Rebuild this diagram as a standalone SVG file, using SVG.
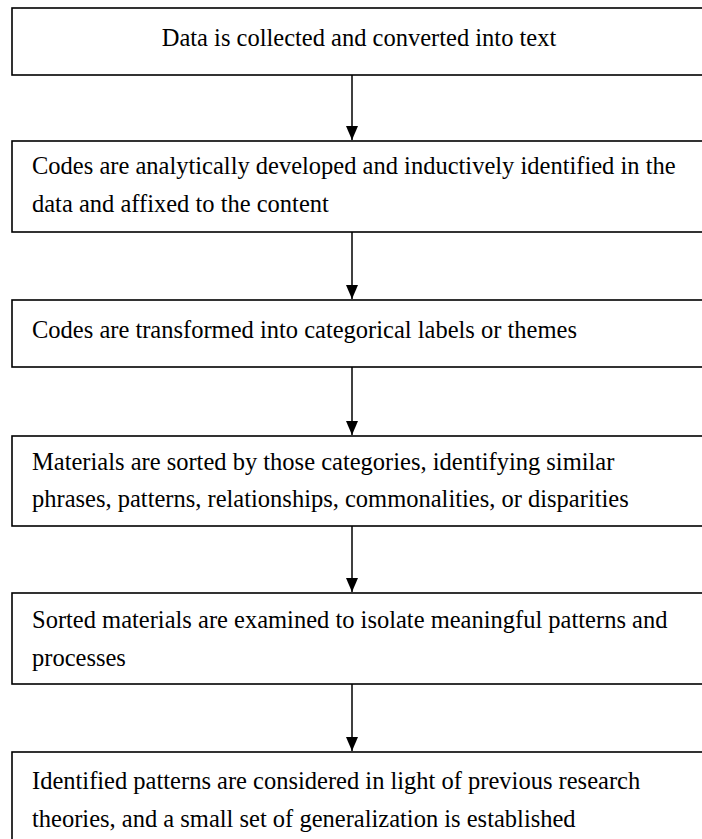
<svg xmlns="http://www.w3.org/2000/svg" width="702" height="839" viewBox="0 0 702 839">
<style>
.box{fill:#fff;stroke:#000;stroke-width:1.6}
.t{font-family:"Liberation Serif","Times New Roman",serif;font-size:24.5px;fill:#000}
.c{stroke:#000;stroke-width:1.5;fill:none}
</style>
<defs>
<marker id="ah" markerWidth="14" markerHeight="12" refX="14" refY="6" orient="auto" markerUnits="userSpaceOnUse" viewBox="0 0 14 12">
<path d="M0,0 L14,6 L0,12 Z" fill="#000"/>
</marker>
</defs>
<rect width="702" height="839" fill="#fff"/>
<g id="connectors">
<line class="c" x1="352" y1="75" x2="352" y2="140" marker-end="url(#ah)"/>
<line class="c" x1="352" y1="232" x2="352" y2="299" marker-end="url(#ah)"/>
<line class="c" x1="352" y1="367" x2="352" y2="435" marker-end="url(#ah)"/>
<line class="c" x1="352" y1="526" x2="352" y2="592" marker-end="url(#ah)"/>
<line class="c" x1="352" y1="684" x2="352" y2="751" marker-end="url(#ah)"/>
</g>
<g id="n1">
<rect class="box" x="12" y="8" width="700" height="67"/>
<text class="t" font-family="Liberation Serif" x="359" y="46" text-anchor="middle">Data is collected and converted into text</text>
</g>
<g id="n2">
<rect class="box" x="12" y="141" width="700" height="91"/>
<text class="t" font-family="Liberation Serif" x="32" y="174">Codes are analytically developed and inductively identified in the</text>
<text class="t" font-family="Liberation Serif" x="32" y="212">data and affixed to the content</text>
</g>
<g id="n3">
<rect class="box" x="12" y="300" width="700" height="67"/>
<text class="t" font-family="Liberation Serif" x="32" y="338">Codes are transformed into categorical labels or themes</text>
</g>
<g id="n4">
<rect class="box" x="12" y="436" width="700" height="90"/>
<text class="t" font-family="Liberation Serif" x="32" y="470">Materials are sorted by those categories, identifying similar</text>
<text class="t" font-family="Liberation Serif" x="32" y="507">phrases, patterns, relationships, commonalities, or disparities</text>
</g>
<g id="n5">
<rect class="box" x="12" y="593" width="700" height="91"/>
<text class="t" font-family="Liberation Serif" x="32" y="628">Sorted materials are examined to isolate meaningful patterns and</text>
<text class="t" font-family="Liberation Serif" x="32" y="666">processes</text>
</g>
<g id="n6">
<rect class="box" x="12" y="752" width="700" height="120"/>
<text class="t" font-family="Liberation Serif" x="32" y="789">Identified patterns are considered in light of previous research</text>
<text class="t" font-family="Liberation Serif" x="32" y="827">theories, and a small set of generalization is established</text>
</g>
</svg>
